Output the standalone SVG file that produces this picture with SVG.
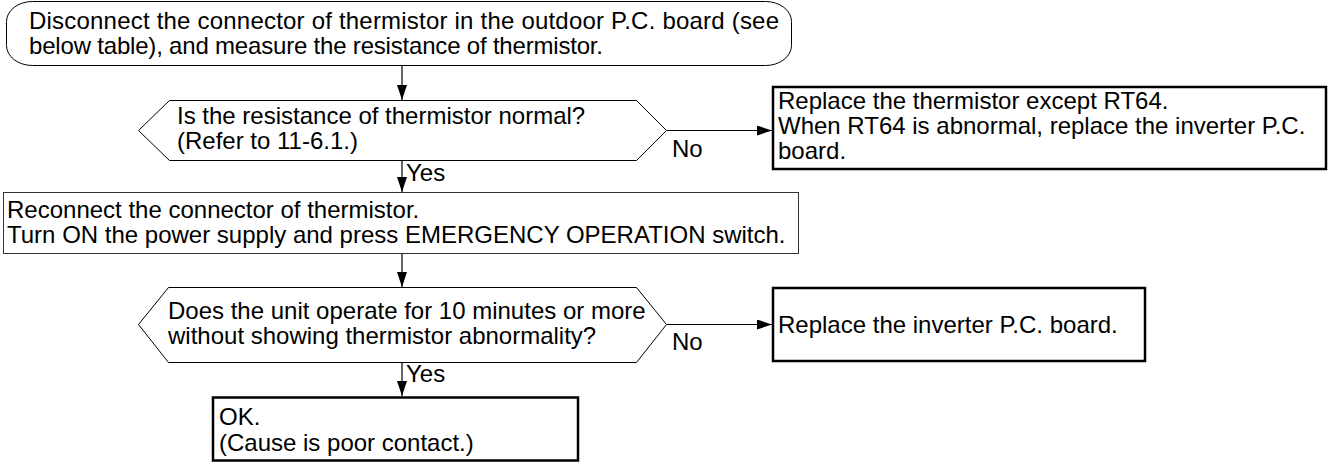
<svg xmlns="http://www.w3.org/2000/svg" width="1331" height="462" viewBox="0 0 1331 462">
<defs>
<marker id="arr" markerUnits="userSpaceOnUse" markerWidth="15" markerHeight="10" refX="15" refY="5" orient="auto">
<path d="M0,0 L15,5 L0,10 z" fill="#000"/>
</marker>
<style>
text{font-family:"Liberation Sans",Arial,sans-serif;font-size:24px;fill:#000}
.thin{fill:#fff;stroke:#000;stroke-width:1}
.grey{fill:#fff;stroke:#333;stroke-width:1}
.thick{fill:#fff;stroke:#000;stroke-width:2.5}
.conn{stroke:#000;stroke-width:1.2;fill:none;marker-end:url(#arr)}
</style>
</defs>
<rect width="1331" height="462" fill="#fff"/>
<g id="start">
<rect class="thin" x="6.5" y="1.5" width="785" height="64" rx="26" ry="20"/>
<text x="29" y="29" textLength="750" lengthAdjust="spacing">Disconnect the connector of thermistor in the outdoor P.C. board (see</text>
<text x="29" y="54" textLength="574" lengthAdjust="spacing">below table), and measure the resistance of thermistor.</text>
</g>
<g id="dec1">
<polygon class="thin" points="138.5,130.5 169.5,100.5 636.5,100.5 666.5,130.5 636.5,160.5 169.5,160.5"/>
<text x="177" y="124">Is the resistance of thermistor normal?</text>
<text x="177" y="149">(Refer to 11-6.1.)</text>
</g>
<g id="rep1">
<rect class="thick" x="773" y="87" width="553" height="82"/>
<text x="778" y="109">Replace the thermistor except RT64.</text>
<text x="778" y="134">When RT64 is abnormal, replace the inverter P.C.</text>
<text x="778" y="159">board.</text>
</g>
<g id="step2">
<rect class="grey" x="3.5" y="192.5" width="795" height="61"/>
<text x="7" y="218">Reconnect the connector of thermistor.</text>
<text x="7" y="243">Turn ON the power supply and press EMERGENCY OPERATION switch.</text>
</g>
<g id="dec2">
<polygon class="thin" points="138.5,324.5 168.5,287.5 636.5,287.5 666.5,324.5 636.5,362.5 168.5,362.5"/>
<text x="168" y="319">Does the unit operate for 10 minutes or more</text>
<text x="168" y="344">without showing thermistor abnormality?</text>
</g>
<g id="rep2">
<rect class="thick" x="773" y="288" width="372" height="73"/>
<text x="778" y="333">Replace the inverter P.C. board.</text>
</g>
<g id="ok">
<rect class="thick" x="213" y="397.5" width="365" height="63"/>
<text x="219" y="425">OK.</text>
<text x="219" y="451">(Cause is poor contact.)</text>
</g>
<g id="connectors">
<line class="conn" x1="402" y1="66" x2="402" y2="100"/>
<line class="conn" x1="402" y1="161" x2="402" y2="192"/>
<line class="conn" x1="402" y1="254" x2="402" y2="287"/>
<line class="conn" x1="402" y1="363" x2="402" y2="396"/>
<line class="conn" x1="667" y1="130.5" x2="772" y2="130.5"/>
<line class="conn" x1="667" y1="324.5" x2="772" y2="324.5"/>
<text x="406" y="181">Yes</text>
<text x="406" y="382">Yes</text>
<text x="672" y="157">No</text>
<text x="672" y="350">No</text>
</g>
</svg>
